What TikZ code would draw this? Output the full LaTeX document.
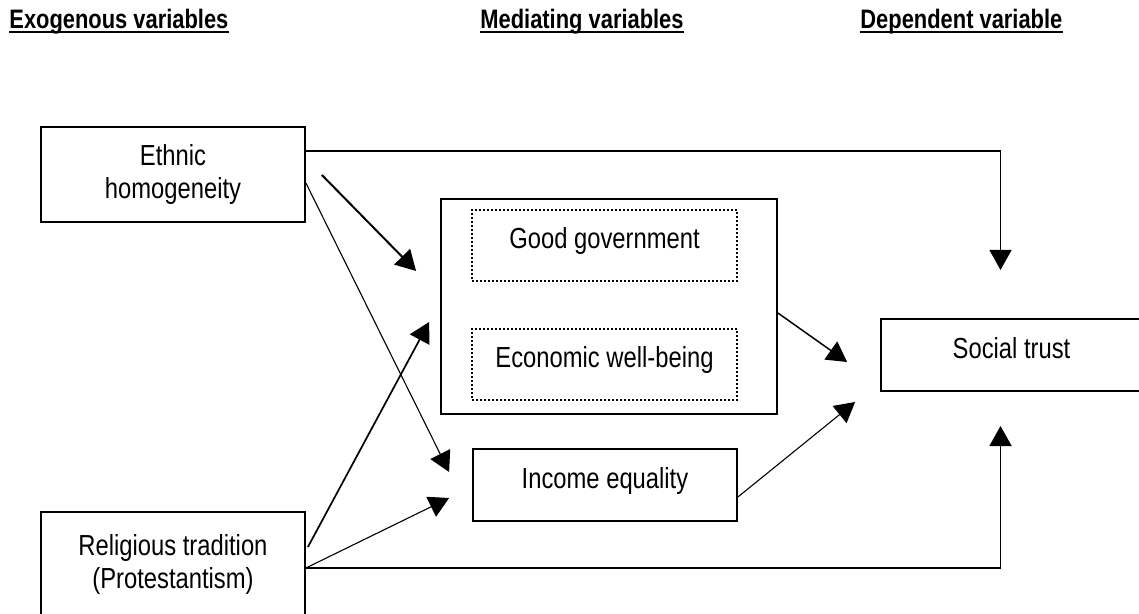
\documentclass[tikz,border=0pt]{standalone}
\usepackage{fontspec}
\setmainfont{Liberation Sans}[FakeStretch=0.82]
\usetikzlibrary{arrows.meta,calc}

\begin{document}
\begin{tikzpicture}[x=0.5pt, y=-0.5pt, > = {Triangle[length=10pt,width=11pt]},
    box/.style = {draw, line width=0.9pt, inner sep=0pt, align=center, font=\fontsize{14.5}{16.5}\selectfont},
    oneline/.style = {text height=10.5pt, text depth=7.1pt},
    mediator/.style = {box, oneline, line width=1pt, dash pattern=on 1pt off 1pt},
    heading/.style = {inner sep=0pt, anchor=base west, font=\fontsize{13.35}{15}\selectfont\bfseries},
    effect/.style = {->, line width=0.55pt},
    strong/.style = {->, line width=1pt}]

    \useasboundingbox (0,0) rectangle (1139,614);

    % headings
    \node[heading] (exo) at (9,29) {Exogenous variables};
    \node[heading] (med) at (480,29) {Mediating variables};
    \node[heading] (dep) at (860,29) {Dependent variable};
    \foreach \h in {exo,med,dep}
        \draw[line width=0.9pt] ($(\h.base west)+(0,3)$) -- ($(\h.base east)+(0,3)$);

    % boxes
    \node[box, minimum width=132pt, minimum height=47.5pt] (ethnic) at (173,174.5) {Ethnic\\homogeneity};
    \node[box, minimum width=132pt, minimum height=52pt] (religion) at (173,564) {Religious tradition\\(Protestantism)};
    \node[box, minimum width=168pt, minimum height=107.5pt] (outer) at (609,306.5) {};
    \node[mediator, minimum width=132.5pt, minimum height=35.5pt] (govt) at (604.5,245.5) {Good government};
    \node[mediator, minimum width=132.5pt, minimum height=35.5pt] (econ) at (604.5,364.5) {Economic well-being};
    \node[box, oneline, minimum width=132pt, minimum height=36pt] (income) at (605,485) {Income equality};
    \node[box, oneline, minimum width=130.5pt, minimum height=36pt] (trust) at (1011.5,355) {Social trust};

    \coordinate (topin) at (1000.5,270);
    \coordinate (botin) at (1000.5,426);

    % effects
    \draw[effect] ($(ethnic.east)+(0,-23.5)$) -| (topin);
    \draw[strong] ($(ethnic.east)+(16,0.5)$) -- ($(outer.west)+(-24,-35.5)$);
    \draw[effect] ($(ethnic.east)+(0,8.5)$) -- ($(income.west)+(-23,-13)$);
    \draw[strong, line width=0.85pt] ($(religion.east)+(2,-17)$) -- ($(outer.west)+(-11,15.5)$);
    \draw[effect] ($(religion.east)+(0,4)$) -- ($(income.west)+(-23,13)$);
    \draw[effect, line width=0.8pt] ($(religion.east)+(0,4)$) -| (botin);
    \draw[strong, line width=0.75pt] ($(outer.east)+(0,6.5)$) -- ($(trust.west)+(-33,7)$);
    \draw[effect] ($(income.east)+(0,12)$) -- ($(trust.west)+(-25,47)$);

\end{tikzpicture}
\end{document}
